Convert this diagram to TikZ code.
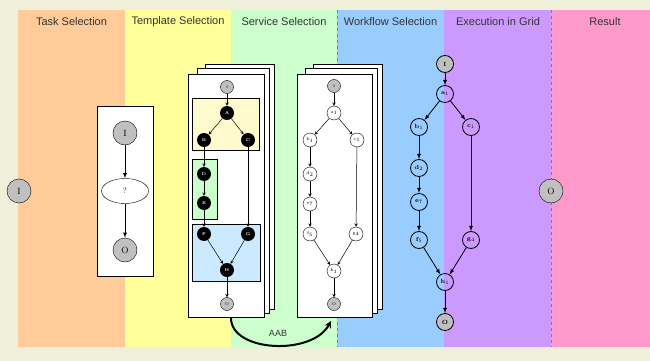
\documentclass[tikz,border=0pt]{standalone}
\usepackage{fontspec}
\setsansfont{Liberation Sans}
\usepackage{tikz}
\usetikzlibrary{positioning}
\usetikzlibrary{arrows}
\usetikzlibrary{shapes}
\definecolor{frame}{RGB}{240,240,218}
\definecolor{task}{RGB}{255,204,153}
\definecolor{templ}{RGB}{255,255,153}
\definecolor{serv}{RGB}{204,255,204}
\definecolor{flow}{RGB}{153,204,255}
\definecolor{exec}{RGB}{204,153,255}
\definecolor{result}{RGB}{255,153,204}
\definecolor{iogray}{RGB}{192,192,192}
\definecolor{headgray}{RGB}{51,51,51}
\definecolor{boxyellow}{RGB}{255,250,205}
\definecolor{boxgreen}{RGB}{204,255,204}
\definecolor{boxblue}{RGB}{204,234,255}

\begin{document}
\begin{tikzpicture}[x=1pt,y=-1pt,>=latex]
			\tikzstyle{head}=[font=\sffamily\fontsize{11}{13}\selectfont, text=headgray]
			\tikzstyle{io}=[circle, draw=black, fill=iogray, minimum size=24pt, inner sep=0pt, font=\small]
			\tikzstyle{ioh}=[circle, draw=black, fill=iogray, minimum size=13pt, inner sep=0pt, font=\fontsize{4}{4}\selectfont]
			\tikzstyle{iox}=[circle, draw=black, fill=iogray, line width=0.8pt, minimum size=17pt, inner sep=0pt, font=\fontsize{6}{6}\selectfont\bfseries]
			\tikzstyle{blk}=[circle, fill=black, text=white, minimum size=14pt, inner sep=0pt, font=\fontsize{4}{4}\selectfont\bfseries]
			\tikzstyle{wht}=[circle, draw=black, fill=white, minimum size=14pt, inner sep=0pt, font=\fontsize{4.5}{4.5}\selectfont]
			\tikzstyle{exe}=[circle, draw=black, line width=0.8pt, minimum size=17pt, inner sep=0pt, font=\fontsize{6}{6}\selectfont\bfseries]
			\tikzstyle{page}=[draw=black, fill=white, line width=0.6pt]
			\tikzstyle{shade}=[fill=gray!70]
			\tikzstyle{thin}=[->, line width=0.5pt, >=stealth]
			
			% columns
			\fill[frame] (0,0) rectangle (650,361);
			\fill[task] (18,10) rectangle (125,347);
			\fill[templ] (125,10) rectangle (231,347);
			\fill[serv] (231,10) rectangle (337,347);
			\fill[flow] (337,10) rectangle (444,347);
			\fill[exec] (444,10) rectangle (551,347);
			\fill[result] (551,10) rectangle (650,347);
			\draw[gray, dashed, line width=0.4pt] (337,10) -- (337,347);
			\draw[gray, dashed, line width=0.4pt] (551,10) -- (551,347);
			
			\node[head] at (71.5,22) (h1) {Task Selection};
			\node[head] at (178,22) (h2) {Template Selection};
			\node[head] at (284,22) (h3) {Service Selection};
			\node[head] at (390.5,22) (h4) {Workflow Selection};
			\node[head] at (498,22) (h5) {Execution in Grid};
			\node[head] at (605,22) (h6) {Result};
			
			\node at (19,191) [io] (inI) {I};
			\node at (551,191) [io] (outO) {O};
			
			% task
			\draw[page] (97,106) rectangle (153,276);
			\node at (125,133) [io] (tI) {I};
			\node at (125,191) [ellipse, draw=black, fill=white, minimum width=47pt, minimum height=25pt, inner sep=0pt, font=\footnotesize] (tq) {?};
			\node at (125,250) [io] (tO) {O};
			\draw [->, line width=0.8pt] (tI) to (tq);
			\draw [->, line width=0.8pt] (tq) to (tO);
			
			% template pages
			\fill[shade] (206,65) rectangle (275,310);
			\draw[page] (205,64) rectangle (274,309);
			\fill[shade] (198,69.5) rectangle (270,314);
			\draw[page] (197,68.5) rectangle (269,313);
			\draw[page] (188,74) rectangle (264,317.5);
			\draw[black, fill=boxyellow] (192,98) rectangle (259,150);
			\draw[black, fill=boxgreen] (192,159) rectangle (217,219);
			\draw[black, fill=boxblue] (192,224) rectangle (260,281);
			
			\node at (227,87) [ioh] (tpI) {I};
			\node at (227,113) [blk] (A) {A};
			\node at (204,140) [blk] (B) {B};
			\node at (248,140) [blk] (C) {C};
			\node at (204,174) [blk] (D) {D};
			\node at (204,203) [blk] (E) {E};
			\node at (204,234) [blk] (F) {F};
			\node at (248,234) [blk] (G) {G};
			\node at (227,270) [blk] (H) {H};
			\node at (227,304) [ioh] (tpO) {O};
			\draw [thin] (tpI) to (A);
			\draw [thin] (A) to (B);
			\draw [thin] (A) to (C);
			\draw [thin] (B) to (D);
			\draw [thin] (D) to (E);
			\draw [thin] (E) to (F);
			\draw [thin] (C) to (G);
			\draw [thin] (F) to (H);
			\draw [thin] (G) to (H);
			\draw [thin] (H) to (tpO);
			
			% service pages
			\fill[shade] (314,65) rectangle (383,310);
			\draw[page] (313,64) rectangle (382,309);
			\fill[shade] (306,69.5) rectangle (378,314);
			\draw[page] (305,68.5) rectangle (377,313);
			\draw[page] (297,74) rectangle (372,317.5);
			
			\node at (334,86) [ioh] (sI) {I};
			\node at (334,113) [wht] (sa) {a$_1$};
			\node at (310,140) [wht] (sb) {b$_1$};
			\node at (357,140) [wht] (sc) {c$_1$};
			\node at (310,174) [wht] (sd) {d$_2$};
			\node at (310,204) [wht] (se) {e$_7$};
			\node at (310,234) [wht] (sf) {f$_5$};
			\node at (356,234) [wht] (sg) {g$_4$};
			\node at (334,271) [wht] (sh) {h$_1$};
			\node at (334,304) [ioh] (sO) {O};
			\draw [thin] (sI) to (sa);
			\draw [thin] (sa) to (sb);
			\draw [thin] (sa) to (sc);
			\draw [thin] (sb) to (sd);
			\draw [thin] (sd) to (se);
			\draw [thin] (se) to (sf);
			\draw [thin] (sc) to (sg);
			\draw [thin] (sf) to (sh);
			\draw [thin] (sg) to (sh);
			\draw [thin] (sh) to (sO);
			
			% AAB
			\coordinate (aabfrom) at (231,318);
			\coordinate (aabto) at (331,321);
			\draw [->, line width=2pt, >=stealth] (aabfrom) .. controls (231,352) and (312,356) .. (aabto);
			\node at (278,333) [font=\sffamily\fontsize{9}{10}\selectfont, text=headgray] (aab) {AAB};
			
			% execution
			\node at (445,64) [iox] (xI) {I};
			\node at (445,94) [exe] (xa) {a$_1$};
			\node at (419,127) [exe] (xb) {b$_1$};
			\node at (471,127) [exe] (xc) {c$_1$};
			\node at (419,168) [exe] (xd) {d$_2$};
			\node at (419,202) [exe] (xe) {e$_7$};
			\node at (419,240) [exe] (xf) {f$_5$};
			\node at (471,240) [exe] (xg) {g$_4$};
			\node at (445,282) [exe] (xh) {h$_1$};
			\node at (445,322) [iox] (xO) {O};
			\draw [->, line width=0.8pt] (xI) to (xa);
			\draw [->, line width=0.8pt] (xa) to (xb);
			\draw [->, line width=0.8pt] (xa) to (xc);
			\draw [->, line width=0.8pt] (xb) to (xd);
			\draw [->, line width=0.8pt] (xd) to (xe);
			\draw [->, line width=0.8pt] (xe) to (xf);
			\draw [->, line width=0.8pt] (xc) to (xg);
			\draw [->, line width=0.8pt] (xf) to (xh);
			\draw [->, line width=0.8pt] (xg) to (xh);
			\draw [->, line width=0.8pt] (xh) to (xO);
			
			\useasboundingbox (0,0) rectangle (650,361);
\end{tikzpicture}
\end{document}
